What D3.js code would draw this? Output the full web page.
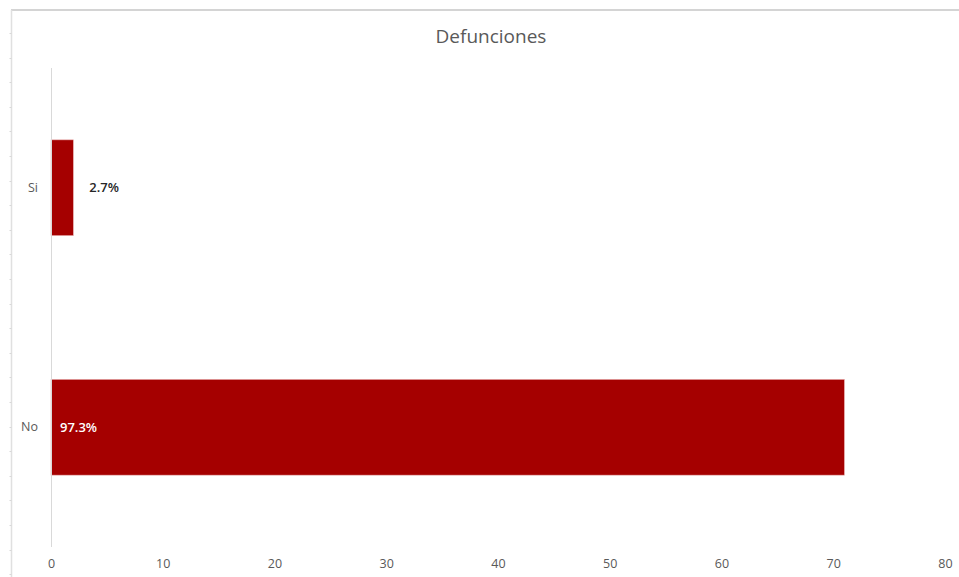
<!DOCTYPE html>
<html>
<head>
<meta charset="utf-8">
<script src="https://cdn.jsdelivr.net/npm/d3@7/dist/d3.min.js"></script>
<style>
  html, body { margin: 0; padding: 0; background: #fff; }
  svg { display: block; }
</style>
</head>
<body>
<svg id="chart" width="959" height="577"></svg>
<script>
const title = "Defunciones";
const categories = ["Si", "No"];
const values = [2, 71];
const labels = ["2.7%", "97.3%"];
const xTicks = [0, 10, 20, 30, 40, 50, 60, 70, 80];

const W = 959, H = 577;
const svg = d3.select("#chart");
const font = "'Open Sans', 'Liberation Sans', sans-serif";

// frame (spreadsheet-like border)
svg.append("line").attr("x1", 11).attr("x2", W).attr("y1", 10).attr("y2", 10)
  .attr("stroke", "#d4d4d4").attr("stroke-width", 2);
svg.append("line").attr("x1", 11.5).attr("x2", 11.5).attr("y1", 10).attr("y2", H)
  .attr("stroke", "#e0e0e0").attr("stroke-width", 1.5);
const rulerY = d3.range(33, H, 24.6);
svg.selectAll("line.ruler").data(rulerY).enter().append("line")
  .attr("class", "ruler")
  .attr("x1", 9.5).attr("x2", 11.5)
  .attr("y1", d => Math.round(d) + 0.5).attr("y2", d => Math.round(d) + 0.5)
  .attr("stroke", "#d8d8d8").attr("stroke-width", 1);

const plot = { left: 51, right: 945, top: 68, bottom: 547 };

const x = d3.scaleLinear().domain([0, 80]).range([plot.left, plot.right]);
const y = d3.scaleBand().domain(categories).range([plot.top, plot.bottom])
  .paddingInner(0.6).paddingOuter(0.3);

// title
svg.append("text").attr("x", 491).attr("y", 43)
  .attr("text-anchor", "middle")
  .attr("font-family", font).attr("font-size", 19)
  .attr("fill", "#595959").text(title);

// bars
svg.selectAll("rect.bar").data(categories).enter().append("rect")
  .attr("class", "bar")
  .attr("x", x(0))
  .attr("y", d => y(d))
  .attr("width", (d, i) => x(values[i]) - x(0))
  .attr("height", y.bandwidth())
  .attr("fill", "#a50000")
  .attr("stroke", "#e9b3b3").attr("stroke-width", 0.6);

// y axis line
svg.append("line").attr("x1", plot.left + 0.5).attr("x2", plot.left + 0.5)
  .attr("y1", plot.top).attr("y2", plot.bottom)
  .attr("stroke", "#d9d9d9").attr("stroke-width", 1);

// category labels
const yAxis = d3.axisLeft(y).tickSize(0).tickPadding(13);
const gy = svg.append("g").attr("transform", `translate(${plot.left},0)`).call(yAxis);
gy.select(".domain").remove();
gy.selectAll("text").attr("font-family", font).attr("font-size", 12.5).attr("fill", "#595959");

// x axis labels
const xAxis = d3.axisBottom(x).tickValues(xTicks).tickSize(0).tickPadding(0);
const gx = svg.append("g").attr("transform", `translate(0,${plot.bottom + 10})`).call(xAxis);
gx.select(".domain").remove();
gx.selectAll("text").attr("font-family", font).attr("font-size", 12.5).attr("fill", "#595959")
  .attr("dy", "0.9em");

// data labels
svg.selectAll("text.dl").data(categories).enter().append("text")
  .attr("class", "dl")
  .attr("x", (d, i) => i === 0 ? x(values[i]) + 16 : x(0) + 9)
  .attr("y", d => y(d) + y.bandwidth() / 2)
  .attr("dy", "0.35em")
  .attr("font-family", font).attr("font-size", 13).attr("font-weight", 600)
  .attr("fill", (d, i) => i === 0 ? "#262626" : "#ffffff")
  .text((d, i) => labels[i]);
</script>
</body>
</html>
